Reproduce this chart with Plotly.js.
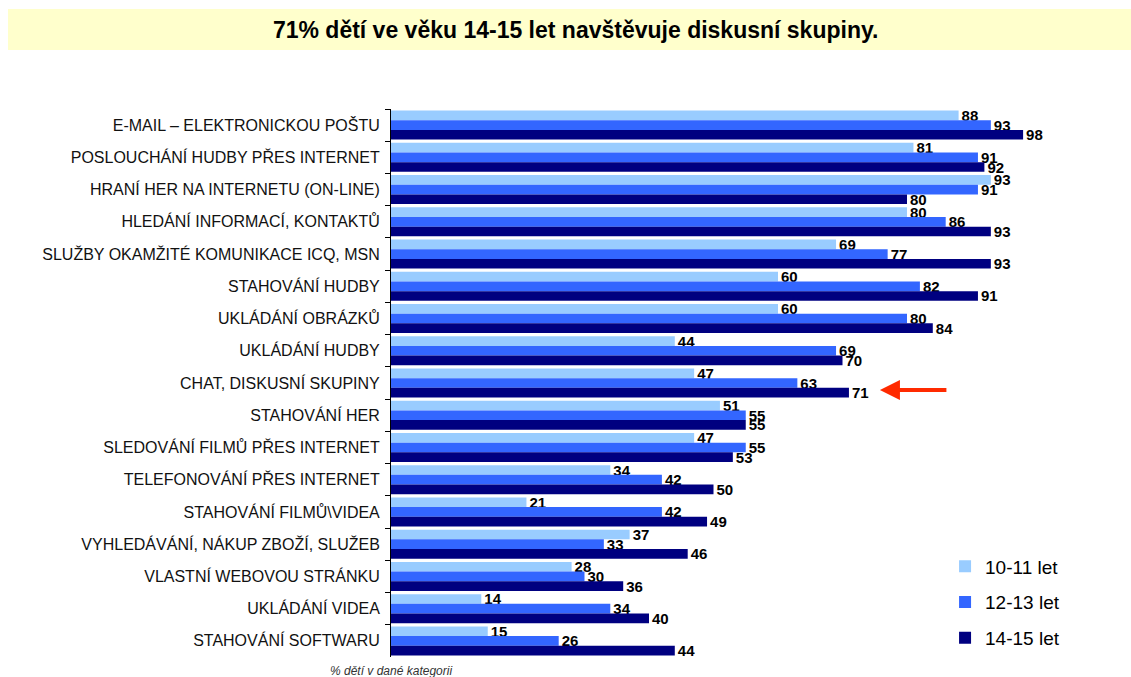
<!DOCTYPE html>
<html>
<head>
<meta charset="utf-8">
<script src="https://cdn.plot.ly/plotly-3.0.1.min.js"></script>
<style>
  html, body { margin: 0; padding: 0; background: #ffffff; }
  #chart { width: 1131px; height: 677px; }
</style>
</head>
<body>
<div id="chart"></div>
<script>
const categories = [
  "E-MAIL – ELEKTRONICKOU POŠTU",
  "POSLOUCHÁNÍ HUDBY PŘES INTERNET",
  "HRANÍ HER NA INTERNETU (ON-LINE)",
  "HLEDÁNÍ INFORMACÍ, KONTAKTŮ",
  "SLUŽBY OKAMŽITÉ KOMUNIKACE ICQ, MSN",
  "STAHOVÁNÍ HUDBY",
  "UKLÁDÁNÍ OBRÁZKŮ",
  "UKLÁDÁNÍ HUDBY",
  "CHAT, DISKUSNÍ SKUPINY",
  "STAHOVÁNÍ HER",
  "SLEDOVÁNÍ FILMŮ PŘES INTERNET",
  "TELEFONOVÁNÍ PŘES INTERNET",
  "STAHOVÁNÍ FILMŮ\\VIDEA",
  "VYHLEDÁVÁNÍ, NÁKUP ZBOŽÍ, SLUŽEB",
  "VLASTNÍ WEBOVOU STRÁNKU",
  "UKLÁDÁNÍ VIDEA",
  "STAHOVÁNÍ SOFTWARU"
];
const seriesNames = ["10-11 let", "12-13 let", "14-15 let"];
const age1011 = [88, 81, 93, 80, 69, 60, 60, 44, 47, 51, 47, 34, 21, 37, 28, 14, 15];
const age1213 = [93, 91, 91, 86, 77, 82, 80, 69, 63, 55, 55, 42, 42, 33, 30, 34, 26];
const age1415 = [98, 92, 80, 93, 93, 91, 84, 70, 71, 55, 53, 50, 49, 46, 36, 40, 44];
const seriesColors = ["#99CCFF", "#3366FF", "#000080"];
const titleText = "71% dětí ve věku 14-15 let navštěvuje diskusní skupiny.";
const noteText = "% dětí v dané kategorii";
const highlightCategory = "CHAT, DISKUSNÍ SKUPINY";

const sansFont = '"Liberation Sans", Arial, sans-serif';

const allValues = [age1011, age1213, age1415];
const traces = allValues.map((vals, i) => ({
  type: "bar",
  orientation: "h",
  name: seriesNames[i],
  legendgroup: "g" + i,
  y: categories,
  x: vals,
  marker: { color: seriesColors[i], line: { width: 0 } },
  text: vals.map(String),
  texttemplate: "%{text}",
  textposition: "outside",
  constraintext: "none",
  cliponaxis: false,
  textfont: { family: sansFont, size: 15, color: "#000000", weight: "bold" },
  hoverinfo: "x+y+name"
}));

const hiIndex = categories.indexOf(highlightCategory);

const layout = {
  width: 1131,
  height: 677,
  margin: { l: 391, r: 95, t: 109, b: 20 },
  paper_bgcolor: "#ffffff",
  plot_bgcolor: "#ffffff",
  barmode: "group",
  bargap: 0.1,
  bargroupgap: 0,
  showlegend: true,
  title: {
    text: "<b>" + titleText + "</b>",
    font: { family: sansFont, size: 23, color: "#000000" },
    xref: "container",
    x: 0.509,
    xanchor: "center",
    yref: "container",
    y: 1 - 30 / 677,
    yanchor: "middle"
  },
  xaxis: {
    range: [0, 100],
    showgrid: false,
    zeroline: false,
    showline: false,
    showticklabels: false,
    ticks: "",
    fixedrange: true
  },
  yaxis: {
    type: "category",
    autorange: "reversed",
    showgrid: false,
    zeroline: false,
    showline: true,
    linecolor: "#000000",
    linewidth: 1,
    ticks: "outside",
    tickson: "boundaries",
    ticklen: 5,
    tickcolor: "#000000",
    tickwidth: 1,
    ticklabelstandoff: 7,
    tickfont: { family: sansFont, size: 16, color: "#111111" },
    fixedrange: true
  },
  legend: {
    x: 0.859,
    xanchor: "left",
    y: 0.2,
    yanchor: "top",
    traceorder: "grouped",
    tracegroupgap: 8,
    bgcolor: "rgba(255,255,255,0)",
    font: { family: sansFont, size: 19, color: "#000000" }
  },
  shapes: [
    {
      type: "rect",
      xref: "paper", yref: "paper",
      x0: (8 - 391) / 645, x1: (1131 - 391) / 645,
      y0: (657 - 50) / 548, y1: (657 - 9) / 548,
      fillcolor: "#FFFFCC",
      line: { width: 0 },
      layer: "below"
    }
  ],
  annotations: [
    {
      xref: "x", yref: "y",
      x: 75.8, y: hiIndex + 0.22,
      text: "",
      showarrow: true,
      arrowhead: 2,
      arrowsize: 1,
      arrowwidth: 4,
      arrowcolor: "#FF2A00",
      ax: 68, ay: 0,
      axref: "pixel", ayref: "pixel"
    },
    {
      xref: "paper", yref: "paper",
      x: (328 - 391) / 645, xanchor: "left",
      y: (657 - 671) / 548, yanchor: "middle",
      text: "<i>" + noteText + "</i>",
      showarrow: false,
      font: { family: sansFont, size: 12, color: "#333333" }
    }
  ]
};

Plotly.newPlot("chart", traces, layout, { displayModeBar: false, staticPlot: true });
</script>
</body>
</html>
